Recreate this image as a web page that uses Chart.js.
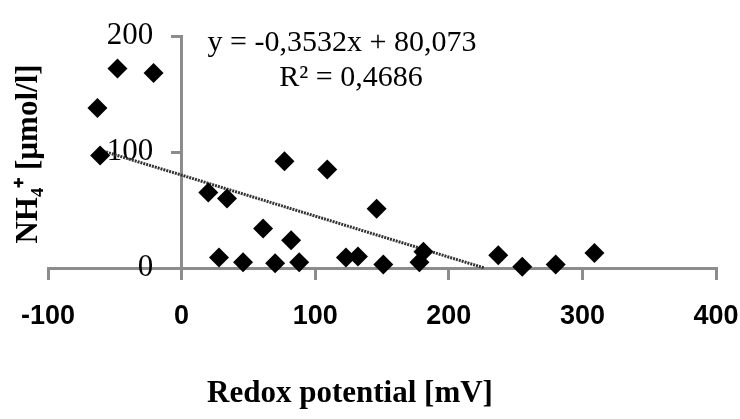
<!DOCTYPE html>
<html lang="en">
<head>
    <meta charset="UTF-8">
    <title>NH4+ vs Redox potential</title>
    <script src="https://cdn.jsdelivr.net/npm/chart.js"></script>
</head>
<body>
<div id="wrap">
    <canvas id="scatterChart" width="740" height="419"></canvas>
</div>
<script>
    // values
    const redox = [-63, -61, -48, -21, 20, 34, 28, 46, 61, 77, 82, 70, 88, 109, 123, 132, 146, 151, 178, 181, 237, 255, 280, 309];
    const nh4 = [138, 97, 172, 168, 65, 60, 9, 5, 34, 92, 24, 4, 5, 85, 9, 10, 51, 3, 5, 14, 11, 1, 3, 13];
    const xTicks = [-100, 0, 100, 200, 300, 400];
    const yTicks = [0, 100, 200];

    // trend line from the equation shown on the chart
    const slope = -0.3532;
    const intercept = 80.073;
    const eqLines = ['y = -0,3532x + 80,073', 'R² = 0,4686'];
    const xTitle = 'Redox potential [mV]';
    const yTitle = 'NH₄⁺ [µmol/l]';

    const points = redox.map((x, i) => ({x: x, y: nh4[i]}));
    const trendStart = Math.min(...redox);
    const trendEnd = -intercept / slope;
    const trend = [trendStart, trendEnd].map(x => ({x: x, y: slope * x + intercept}));

    const axisGray = '#8c8c8c';

    const textPlugin = {
        id: 'texts',
        afterDraw(chart) {
            const ctx = chart.ctx;
            ctx.save();
            ctx.fillStyle = '#000';
            ctx.textAlign = 'center';
            ctx.textBaseline = 'middle';
            ctx.font = '30px "Liberation Serif"';
            ctx.fillText(eqLines[0], 342, 43);
            ctx.fillText(eqLines[1], 351, 78);

            ctx.font = 'bold 31px "Liberation Serif"';
            ctx.fillText(xTitle, 350, 394);

            ctx.translate(29, 154);
            ctx.rotate(-Math.PI / 2);
            ctx.fillText(yTitle, 0, 0);
            ctx.restore();
        }
    };

    new Chart(document.getElementById('scatterChart'), {
        type: 'scatter',
        data: {
            datasets: [{
                label: 'NH4+',
                data: points,
                pointStyle: 'rectRot',
                pointRadius: 10,
                pointHoverRadius: 10,
                backgroundColor: '#000',
                borderColor: '#000',
                borderWidth: 0,
                clip: false
            }, {
                label: 'Trend',
                type: 'line',
                data: trend,
                borderColor: '#333',
                borderWidth: 3,
                borderDash: [2, 1],
                pointRadius: 0,
                fill: false,
                clip: false
            }]
        },
        options: {
            responsive: false,
            animation: false,
            layout: {padding: {left: 48, right: 24, top: 36, bottom: 151}},
            plugins: {
                legend: {display: false},
                tooltip: {enabled: false}
            },
            scales: {
                x: {
                    type: 'linear',
                    position: {y: 0},
                    min: -100,
                    max: 400,
                    afterBuildTicks: axis => { axis.ticks = xTicks.map(v => ({value: v})); },
                    // labels may overflow the plot edges, as in the original
                    afterFit: axis => { axis.paddingLeft = 0; axis.paddingRight = 0; },
                    grid: {drawOnChartArea: false, tickLength: 10, color: axisGray, lineWidth: 3},
                    border: {color: axisGray, width: 3},
                    ticks: {
                        color: '#000',
                        padding: 22,
                        font: {family: '"Liberation Sans"', size: 27, weight: 'bold'}
                    }
                },
                y: {
                    type: 'linear',
                    position: {x: 0},
                    min: 0,
                    max: 200,
                    afterBuildTicks: axis => { axis.ticks = yTicks.map(v => ({value: v})); },
                    grid: {drawOnChartArea: false, tickLength: 9, color: axisGray, lineWidth: 3},
                    border: {color: axisGray, width: 3},
                    ticks: {
                        color: '#000',
                        font: {family: '"Liberation Serif"', size: 31},
                        // positioned axis ignores padding, so pad the label text
                        callback: v => v + '\u2002\u2005\u2006'
                    }
                }
            }
        },
        plugins: [textPlugin]
    });
</script>
</body>
</html>
<style>
    body {
        margin: 0;
        background: #fff;
    }
    #wrap {
        width: 740px;
        height: 419px;
    }
</style>
